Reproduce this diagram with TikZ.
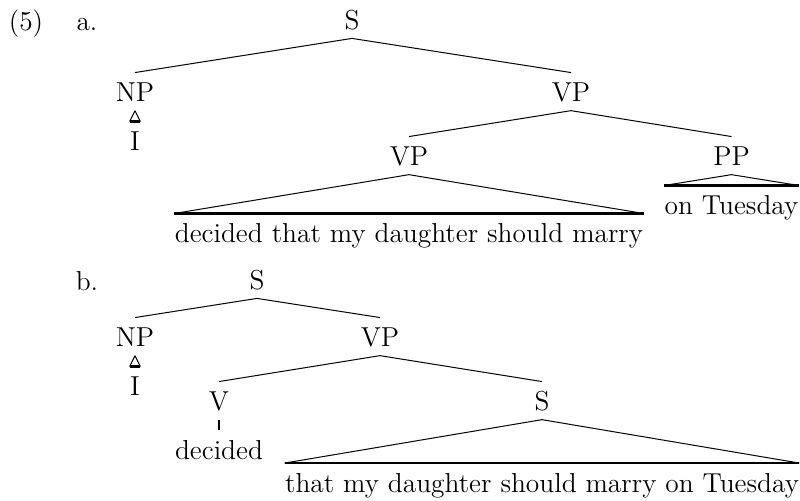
\documentclass[tikz,border=0pt]{standalone}
\usepackage{tikz}
\usetikzlibrary{positioning}

\begin{document}
\begin{tikzpicture}[x=0.5pt, y=-0.5pt,
    every node/.style={font=\fontsize{13.7}{16}\selectfont},
    cat/.style={inner sep=0pt, text height=14.4pt, text depth=4.25pt, anchor=base},
    leaf/.style={inner sep=0pt, text height=14.5pt, text depth=4pt},
    branch/.style={line width=0.5pt},
    roofbase/.style={line width=1.2pt}]
    \useasboundingbox (0,0) rectangle (800,500);

    % (5a)
    \node[anchor=base] (num) at (26,30) {(5)};
    \node[anchor=base] (ma) at (87,30) {a.};
    \node[cat] (sA) at (352,29.5) {S};
    \node[cat] (npA) at (135,101.75) {NP};
    \node[cat] (vpA) at (571,101.75) {VP};
    \node[cat] (vpA2) at (409,165.75) {VP};
    \node[cat] (ppA) at (731.5,165.75) {PP};
    \node[leaf, minimum width=5pt, below=5.4pt of npA] (iA) {I};
    \node[leaf, below=19.4pt of vpA2] (lfA1) {decided that my daughter should marry};
    \node[leaf, below=5.4pt of ppA] (lfA2) {on Tuesday};

    \draw[branch] (sA.south) -- (npA.north);
    \draw[branch] (sA.south) -- (vpA.north);
    \draw[branch] (vpA.south) -- (vpA2.north);
    \draw[branch] (vpA.south) -- (ppA.north);
    \draw[branch] (npA.south) -- (iA.north west) (npA.south) -- (iA.north east);
    \draw[roofbase] (iA.north west) -- (iA.north east);
    \draw[branch] (vpA2.south) -- (lfA1.north west) (vpA2.south) -- (lfA1.north east);
    \draw[roofbase] (lfA1.north west) -- (lfA1.north east);
    \draw[branch] (ppA.south) -- (lfA2.north west) (ppA.south) -- (lfA2.north east);
    \draw[roofbase] (lfA2.north west) -- (lfA2.north east);

    % (5b)
    \node[anchor=base] (mb) at (87,290) {b.};
    \node[cat] (sB) at (257,289.5) {S};
    \node[cat] (npB) at (135,346.75) {NP};
    \node[cat] (vpB) at (380,346.75) {VP};
    \node[cat] (vB) at (219,410.75) {V};
    \node[cat] (sB2) at (542,410.75) {S};
    \node[leaf, minimum width=5pt, below=5.4pt of npB] (iB) {I};
    \node[leaf, below=5.4pt of vB] (decB) {decided};
    \node[leaf, below=21.7pt of sB2] (lfB) {that my daughter should marry on Tuesday};

    \draw[branch] (sB.south) -- (npB.north);
    \draw[branch] (sB.south) -- (vpB.north);
    \draw[branch] (vpB.south) -- (vB.north);
    \draw[branch] (vpB.south) -- (sB2.north);
    \draw[branch] (npB.south) -- (iB.north west) (npB.south) -- (iB.north east);
    \draw[roofbase] (iB.north west) -- (iB.north east);
    \draw[line width=1pt] (vB.south) -- (decB.north);
    \draw[branch] (sB2.south) -- (lfB.north west) (sB2.south) -- (lfB.north east);
    \draw[roofbase] (lfB.north west) -- (lfB.north east);
\end{tikzpicture}
\end{document}
